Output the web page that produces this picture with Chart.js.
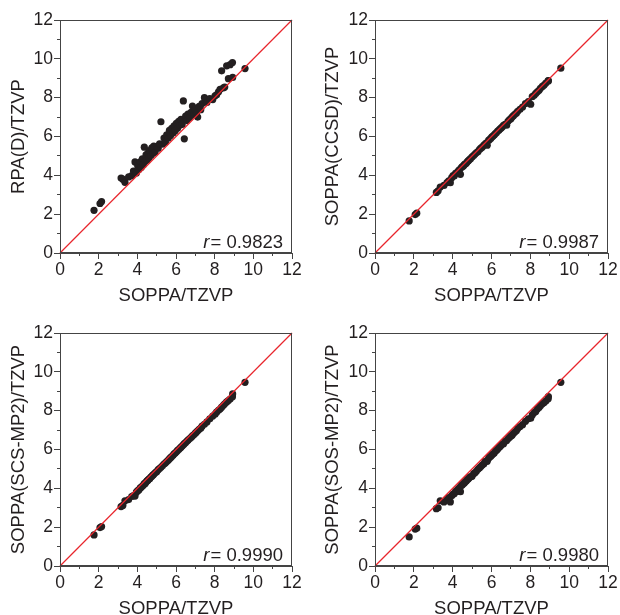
<!DOCTYPE html>
<html>
<head>
<meta charset="utf-8">
<script src="https://cdn.jsdelivr.net/npm/chart.js@4.4.1/dist/chart.umd.min.js"></script>
<style>
  html, body { margin: 0; padding: 0; background: #fff; overflow: hidden; width: 620px; height: 615px; }
  canvas { position: absolute; }
</style>
</head>
<body>
<canvas id="c1" width="310" height="310" style="left:0px;top:0px"></canvas>
<canvas id="c2" width="310" height="310" style="left:310px;top:0px"></canvas>
<canvas id="c3" width="310" height="310" style="left:0px;top:313px"></canvas>
<canvas id="c4" width="310" height="310" style="left:310px;top:313px"></canvas>
<script>
// SOPPA/TZVP values (shared x for all panels)
const soppa = [1.76, 2.07, 2.15, 3.16, 3.25, 3.36, 3.55, 3.71, 3.80, 3.88,
  3.95, 4.02, 4.08, 4.15, 4.20, 4.26, 4.31, 4.36, 4.40, 4.45,
  4.50, 4.55, 4.60, 4.64, 4.70, 4.75, 4.80, 4.85, 4.92, 5.00,
  5.08, 5.15, 5.22, 5.30, 5.38, 5.45, 5.52, 5.60, 5.66, 5.72,
  5.78, 5.85, 5.90, 5.96, 6.02, 6.08, 6.14, 6.20, 6.26, 6.32,
  6.38, 6.43, 6.50, 6.56, 6.62, 6.70, 6.78, 6.85, 6.92, 7.00,
  7.06, 7.12, 7.20, 7.28, 7.35, 7.47, 7.60, 7.75, 7.90, 8.02,
  8.10, 8.20, 8.28, 8.36, 8.45, 8.52, 8.62, 8.71, 8.80, 8.92,
  8.93, 9.57];
const rpaD = [2.20, 2.55, 2.65, 3.86, 3.80, 3.64, 3.92, 3.98, 4.22, 4.69,
  4.12, 4.50, 4.30, 4.70, 4.40, 4.85, 4.55, 5.45, 4.72, 5.05,
  4.78, 5.15, 4.90, 5.28, 5.02, 5.42, 5.12, 5.50, 5.20, 5.48,
  5.40, 5.62, 6.76, 5.60, 5.92, 5.70, 6.08, 5.92, 6.32, 6.05,
  6.42, 6.18, 6.55, 6.30, 6.68, 6.42, 6.78, 6.58, 6.88, 6.62,
  7.83, 5.88, 7.05, 6.82, 7.15, 6.98, 7.25, 7.57, 7.12, 7.42,
  7.20, 7.00, 7.55, 7.38, 7.70, 8.00, 7.75, 7.95, 7.90, 8.10,
  8.15, 8.30, 8.43, 9.38, 8.50, 8.55, 9.64, 8.98, 9.70, 9.81,
  9.04, 9.50];
const soppaCCSD = [1.65, 1.98, 2.05, 3.12, 3.20, 3.40, 3.48, 3.62, 3.72, 3.62,
  3.88, 3.98, 3.96, 4.10, 4.12, 4.18, 4.25, 4.30, 4.05, 4.40,
  4.45, 4.48, 4.55, 4.58, 4.62, 4.70, 4.74, 4.80, 4.86, 4.95,
  5.02, 5.10, 5.16, 5.22, 5.33, 5.40, 5.45, 5.55, 5.60, 5.66,
  5.55, 5.80, 5.84, 5.90, 5.98, 6.02, 6.08, 6.15, 6.20, 6.28,
  6.32, 6.38, 6.44, 6.50, 6.58, 6.62, 6.58, 6.78, 6.86, 6.92,
  7.00, 7.06, 7.14, 7.20, 7.30, 7.40, 7.52, 7.70, 7.80, 7.66,
  8.05, 8.12, 8.22, 8.30, 8.38, 8.48, 8.58, 8.65, 8.75, 8.88,
  8.86, 9.52];
const soppaSCS = [1.60, 1.98, 2.03, 3.06, 3.12, 3.36, 3.42, 3.58, 3.62, 3.60,
  3.80, 3.88, 3.92, 4.02, 4.05, 4.12, 4.16, 4.25, 4.24, 4.32,
  4.38, 4.42, 4.48, 4.50, 4.58, 4.62, 4.68, 4.72, 4.80, 4.86,
  4.96, 5.02, 5.08, 5.16, 5.25, 5.30, 5.38, 5.45, 5.52, 5.58,
  5.64, 5.70, 5.78, 5.82, 5.88, 5.95, 6.00, 6.06, 6.12, 6.18,
  6.24, 6.30, 6.36, 6.42, 6.48, 6.55, 6.62, 6.70, 6.76, 6.84,
  6.90, 6.96, 7.04, 7.10, 7.20, 7.30, 7.42, 7.58, 7.72, 7.82,
  7.92, 8.02, 8.08, 8.18, 8.28, 8.35, 8.45, 8.52, 8.60, 8.72,
  8.86, 9.46];
const soppaSOS = [1.50, 1.90, 1.95, 2.95, 3.00, 3.36, 3.30, 3.42, 3.52, 3.30,
  3.62, 3.70, 3.72, 3.85, 3.84, 3.95, 3.96, 4.05, 3.83, 4.15,
  4.18, 4.25, 4.28, 4.34, 4.38, 4.45, 4.48, 4.55, 4.60, 4.62,
  4.76, 4.80, 4.88, 4.98, 5.05, 5.12, 5.20, 5.25, 5.38, 5.40,
  5.40, 5.55, 5.62, 5.65, 5.72, 5.78, 5.82, 5.92, 5.96, 6.02,
  6.10, 6.14, 6.22, 6.28, 6.30, 6.42, 6.46, 6.55, 6.62, 6.70,
  6.74, 6.82, 6.90, 6.96, 7.08, 7.18, 7.28, 7.45, 7.58, 7.61,
  7.78, 7.90, 7.96, 8.08, 8.16, 8.25, 8.35, 8.42, 8.50, 8.62,
  8.73, 9.46];
const diagonal = [0, 12];
const axisMin = 0, axisMax = 12;
const xTitle = 'SOPPA/TZVP';
const yTitles = ['RPA(D)/TZVP', 'SOPPA(CCSD)/TZVP', 'SOPPA(SCS-MP2)/TZVP', 'SOPPA(SOS-MP2)/TZVP'];
const rValues = ['0.9823', '0.9987', '0.9990', '0.9980'];

const TXT = '#231f20';
const FONT = 'Liberation Sans, Arial, Helvetica, sans-serif';

const framePlugin = {
  id: 'frame',
  afterDatasetsDraw(chart) {
    const a = chart.chartArea, ctx = chart.ctx;
    ctx.save();
    ctx.strokeStyle = '#444';
    ctx.lineWidth = 1;
    ctx.strokeRect(Math.round(a.left) + 0.5, Math.round(a.top) + 0.5,
      Math.round(a.right - a.left) - 1, Math.round(a.bottom - a.top) - 1);
    ctx.restore();
  }
};
const rPlugin = {
  id: 'rlabel',
  afterDraw(chart, args, opts) {
    const a = chart.chartArea, ctx = chart.ctx;
    ctx.save();
    ctx.fillStyle = TXT;
    ctx.textBaseline = 'alphabetic';
    ctx.textAlign = 'right';
    ctx.font = '18.5px ' + FONT;
    const rest = '= ' + opts.value;
    const xr = a.right - 9, yb = a.bottom - 5;
    ctx.fillText(rest, xr, yb);
    const w = ctx.measureText(rest).width;
    ctx.font = 'italic 18.5px ' + FONT;
    ctx.fillText('r', xr - w - 1, yb);
    ctx.restore();
  }
};

function makeChart(id, yVals, yTitle, rVal, yAxisWidth, yTitlePad, padRight) {
  const pts = soppa.map((v, i) => ({x: v, y: yVals[i]}));
  return new Chart(document.getElementById(id), {
    data: {
      datasets: [
        { type: 'line', data: diagonal.map(v => ({x: v, y: v})), borderColor: '#e8252c',
          borderWidth: 1.2, pointRadius: 0, order: 0, clip: false },
        { type: 'scatter', data: pts, backgroundColor: '#231f20', borderWidth: 0,
          pointRadius: 3.6, order: 1 }
      ]
    },
    options: {
      responsive: false, animation: false, devicePixelRatio: 1,
      layout: { padding: { top: 20, right: padRight, bottom: 0, left: 0 } },
      plugins: { legend: { display: false }, tooltip: { enabled: false }, rlabel: { value: rVal } },
      scales: {
        x: {
          type: 'linear', position: 'bottom', min: axisMin, max: axisMax,
          ticks: { stepSize: 2, color: TXT, padding: 1, maxRotation: 0, font: { family: FONT, size: 17.5 } },
          grid: { drawOnChartArea: false, drawTicks: true, tickLength: 6, color: '#444' },
          border: { display: true, color: '#444', width: 1 },
          title: { display: true, text: xTitle, color: TXT, padding: { top: 0, bottom: 3 },
                   font: { family: FONT, size: 18.5 } },
          afterFit(s) { s.height = 57; }
        },
        y: {
          type: 'linear', position: 'left', min: axisMin, max: axisMax,
          ticks: { stepSize: 2, color: TXT, padding: 1, font: { family: FONT, size: 17.5 } },
          grid: { drawOnChartArea: false, drawTicks: true, tickLength: 6, color: '#444' },
          border: { display: true, color: '#444', width: 1 },
          title: { display: true, text: yTitle, color: TXT, padding: { top: yTitlePad, bottom: 0 },
                   font: { family: FONT, size: 18.5 } },
          afterFit(s) { s.width = yAxisWidth; }
        },
        xm: {
          type: 'linear', position: { y: 0 }, min: axisMin, max: axisMax,
          ticks: { stepSize: 1, display: false },
          grid: { drawOnChartArea: false, drawTicks: true, tickLength: 3, color: '#444' },
          border: { display: false },
          afterFit(s) { s.height = 0; }
        },
        ym: {
          type: 'linear', position: { x: 0 }, min: axisMin, max: axisMax,
          ticks: { stepSize: 1, display: false },
          grid: { drawOnChartArea: false, drawTicks: true, tickLength: 3, color: '#444' },
          border: { display: false },
          afterFit(s) { s.width = 0; }
        }
      }
    },
    plugins: [framePlugin, rPlugin]
  });
}

makeChart('c1', rpaD, yTitles[0], rValues[0], 60, 8, 18);
makeChart('c2', soppaCCSD, yTitles[1], rValues[1], 65, 12, 12);
makeChart('c3', soppaSCS, yTitles[2], rValues[2], 60, 8, 18);
makeChart('c4', soppaSOS, yTitles[3], rValues[3], 65, 12, 12);
</script>
</body>
</html>
